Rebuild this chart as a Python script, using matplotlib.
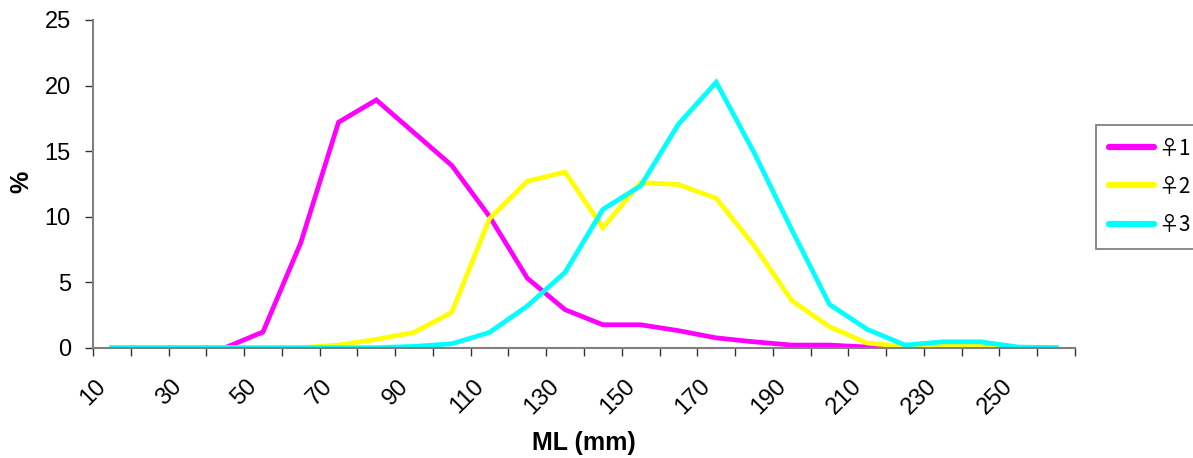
import matplotlib
matplotlib.use("Agg")
import matplotlib.pyplot as plt
import numpy as np

plt.rcParams['font.family'] = ['Liberation Sans', 'DejaVu Sans']

categories = [10, 20, 30, 40, 50, 60, 70, 80, 90, 100, 110, 120, 130, 140, 150,
              160, 170, 180, 190, 200, 210, 220, 230, 240, 250, 260]
female1 = [0, 0, 0, 0, 1.2, 8.0, 17.2, 18.9, 16.4, 13.9, 10.0, 5.3, 2.9, 1.75, 1.75,
           1.3, 0.75, 0.45, 0.2, 0.2, 0.05, 0, 0, 0, 0, 0]
female2 = [0, 0, 0, 0, 0, 0, 0.2, 0.64, 1.17, 2.7, 9.85, 12.7, 13.4, 9.15, 12.6,
           12.45, 11.4, 7.8, 3.6, 1.6, 0.35, 0.1, 0.1, 0.1, 0, 0]
female3 = [0, 0, 0, 0, 0, 0, 0, 0, 0.1, 0.3, 1.17, 3.18, 5.75, 10.55, 12.35,
           17.05, 20.25, 14.9, 9.0, 3.3, 1.4, 0.2, 0.45, 0.45, 0.05, 0]
series_names = ['\u26401', '\u26402', '\u26403']
series_colors = ['#FF00FF', '#FFFF00', '#00FFFF']
tick_labels = [str(c) for c in categories[::2]]

fig = plt.figure(figsize=(11.93, 4.58), dpi=100)
ax = fig.add_axes([93/1193, 1 - 347.7/458, (1075 - 93)/1193, (347.7 - 20)/458])

x = np.arange(len(categories))
for vals, name, col in zip([female1, female2, female3], series_names, series_colors):
    ax.plot(x, vals, color=col, lw=3.4, label=name, solid_joinstyle='miter')

ax.set_xlim(-0.5, len(categories) - 0.5)
ax.set_ylim(0, 25)
ax.set_yticks(np.arange(0, 26, 5))

ax.set_xticks(np.arange(-0.5, len(categories) + 0.5, 1))
ax.set_xticklabels([])
ax.set_xticks(x[::2] - 0.45, minor=True)
ax.set_xticklabels(tick_labels, minor=True, rotation=45, ha='right',
                   rotation_mode='anchor', fontsize=17)
ax.tick_params(axis='x', which='major', direction='out', length=6, width=1, color='#333333')
ax.tick_params(axis='x', which='minor', length=0, pad=20)
ax.tick_params(axis='y', direction='out', length=6, width=1, color='#333333',
               labelsize=17, pad=10)

for s in ['top', 'right']:
    ax.spines[s].set_visible(False)
for s in ['left', 'bottom']:
    ax.spines[s].set_color('#808080')
    ax.spines[s].set_linewidth(1.5)

ax.set_xlabel('ML (mm)', fontsize=18, fontweight='bold', labelpad=9)
fig.text(21/1193, 1 - 182/458, '%', fontsize=18, fontweight='bold', rotation=90,
         ha='center', va='center')

leg = fig.legend(loc='upper left', bbox_to_anchor=(1096/1193, 1 - 125/458),
                 prop={'family': ['Noto Sans CJK JP', 'Liberation Sans'], 'size': 15},
                 frameon=True, fancybox=False, handlelength=2.2,
                 handletextpad=0.2, borderpad=0.6, labelspacing=0.78,
                 borderaxespad=0)
leg.get_frame().set_edgecolor('#555555')
leg.get_frame().set_linewidth(1.2)
for h in leg.get_lines():
    h.set_linewidth(4.5)
    h.set_solid_capstyle('round')

fig.savefig('out.png', dpi=100)
